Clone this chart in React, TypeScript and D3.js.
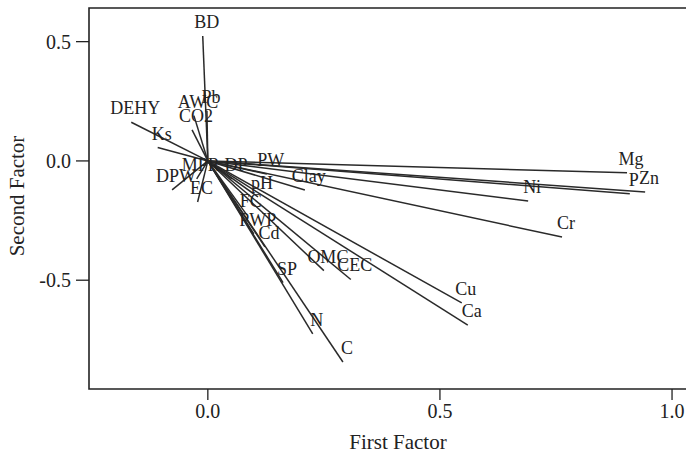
import React from "react";
import * as d3 from "d3";

const variables = ["BD","Pb","AWC","CO2","DEHY","Ks","MPR","DPW","EC","DP","PW","Clay","pH","FC","PWP","Cd","SP","OMC","CEC","N","C","Cu","Ca","Cr","Ni","Mg","P","Zn"];
const factor1 = [-0.011,-0.002,-0.030,-0.034,-0.165,-0.108,-0.024,-0.077,-0.022,0.052,0.127,0.209,0.108,0.084,0.099,0.123,0.162,0.250,0.308,0.226,0.291,0.547,0.560,0.763,0.690,0.903,0.909,0.942];
const factor2 = [0.524,0.210,0.190,0.130,0.162,0.056,-0.075,-0.121,-0.172,-0.075,-0.055,-0.122,-0.151,-0.226,-0.306,-0.360,-0.510,-0.460,-0.497,-0.725,-0.843,-0.595,-0.688,-0.319,-0.168,-0.050,-0.138,-0.130];
const xTicks = [0, 0.5, 1.0];
const yTicks = [0.5, 0, -0.5];
const xTitle = "First Factor";
const yTitle = "Second Factor";

export default function App() {
  const W = 686, H = 456;
  const left = 89, top = 8, bottom = 389, right = 692;
  const x = d3.scaleLinear().domain([-0.256, 1.043]).range([left, right]);
  const y = d3.scaleLinear().domain([-0.956, 0.641]).range([bottom, top]);
  const font = "'Liberation Serif', 'Times New Roman', serif";
  const fmt = (t: number) => d3.format(".1f")(t).replace("\u2212", "-");
  return (
    <svg width={W} height={H} style={{ position: "absolute", left: 0, top: 0, background: "#fff" }} fontFamily={font}>
      <rect x={0} y={0} width={W} height={H} fill="#fff" />
      {variables.map((v, i) => (
        <line key={"l" + v} x1={x(0)} y1={y(0)} x2={x(factor1[i])} y2={y(factor2[i])} stroke="#2a2a2a" strokeWidth={1.5} />
      ))}
      {variables.map((v, i) => (
        <text key={"t" + v} x={x(factor1[i]) + 4} y={y(factor2[i]) - 14} fontSize={18} fill="#222" textAnchor="middle" dominantBaseline="central">{v}</text>
      ))}
      <path d={`M${right},${top}H${left}V${bottom}H${right}`} fill="none" stroke="#222" strokeWidth={1.6} />
      {xTicks.map(t => (
        <g key={"xt" + t}>
          <line x1={x(t)} x2={x(t)} y1={bottom} y2={bottom + 11} stroke="#222" strokeWidth={1.3} />
          <text x={x(t)} y={bottom + 29} fontSize={20} fill="#222" textAnchor="middle">{fmt(t)}</text>
        </g>
      ))}
      {yTicks.map(t => (
        <g key={"yt" + t}>
          <line x1={left - 13} x2={left} y1={y(t)} y2={y(t)} stroke="#222" strokeWidth={1.3} />
          <text x={left - 18} y={y(t)} fontSize={20} fill="#222" textAnchor="end" dominantBaseline="central">{fmt(t)}</text>
        </g>
      ))}
      <text x={398} y={449} fontSize={21} fill="#222" textAnchor="middle">{xTitle}</text>
      <text transform={`translate(24,196) rotate(-90)`} fontSize={21} fill="#222" textAnchor="middle">{yTitle}</text>
    </svg>
  );
}
